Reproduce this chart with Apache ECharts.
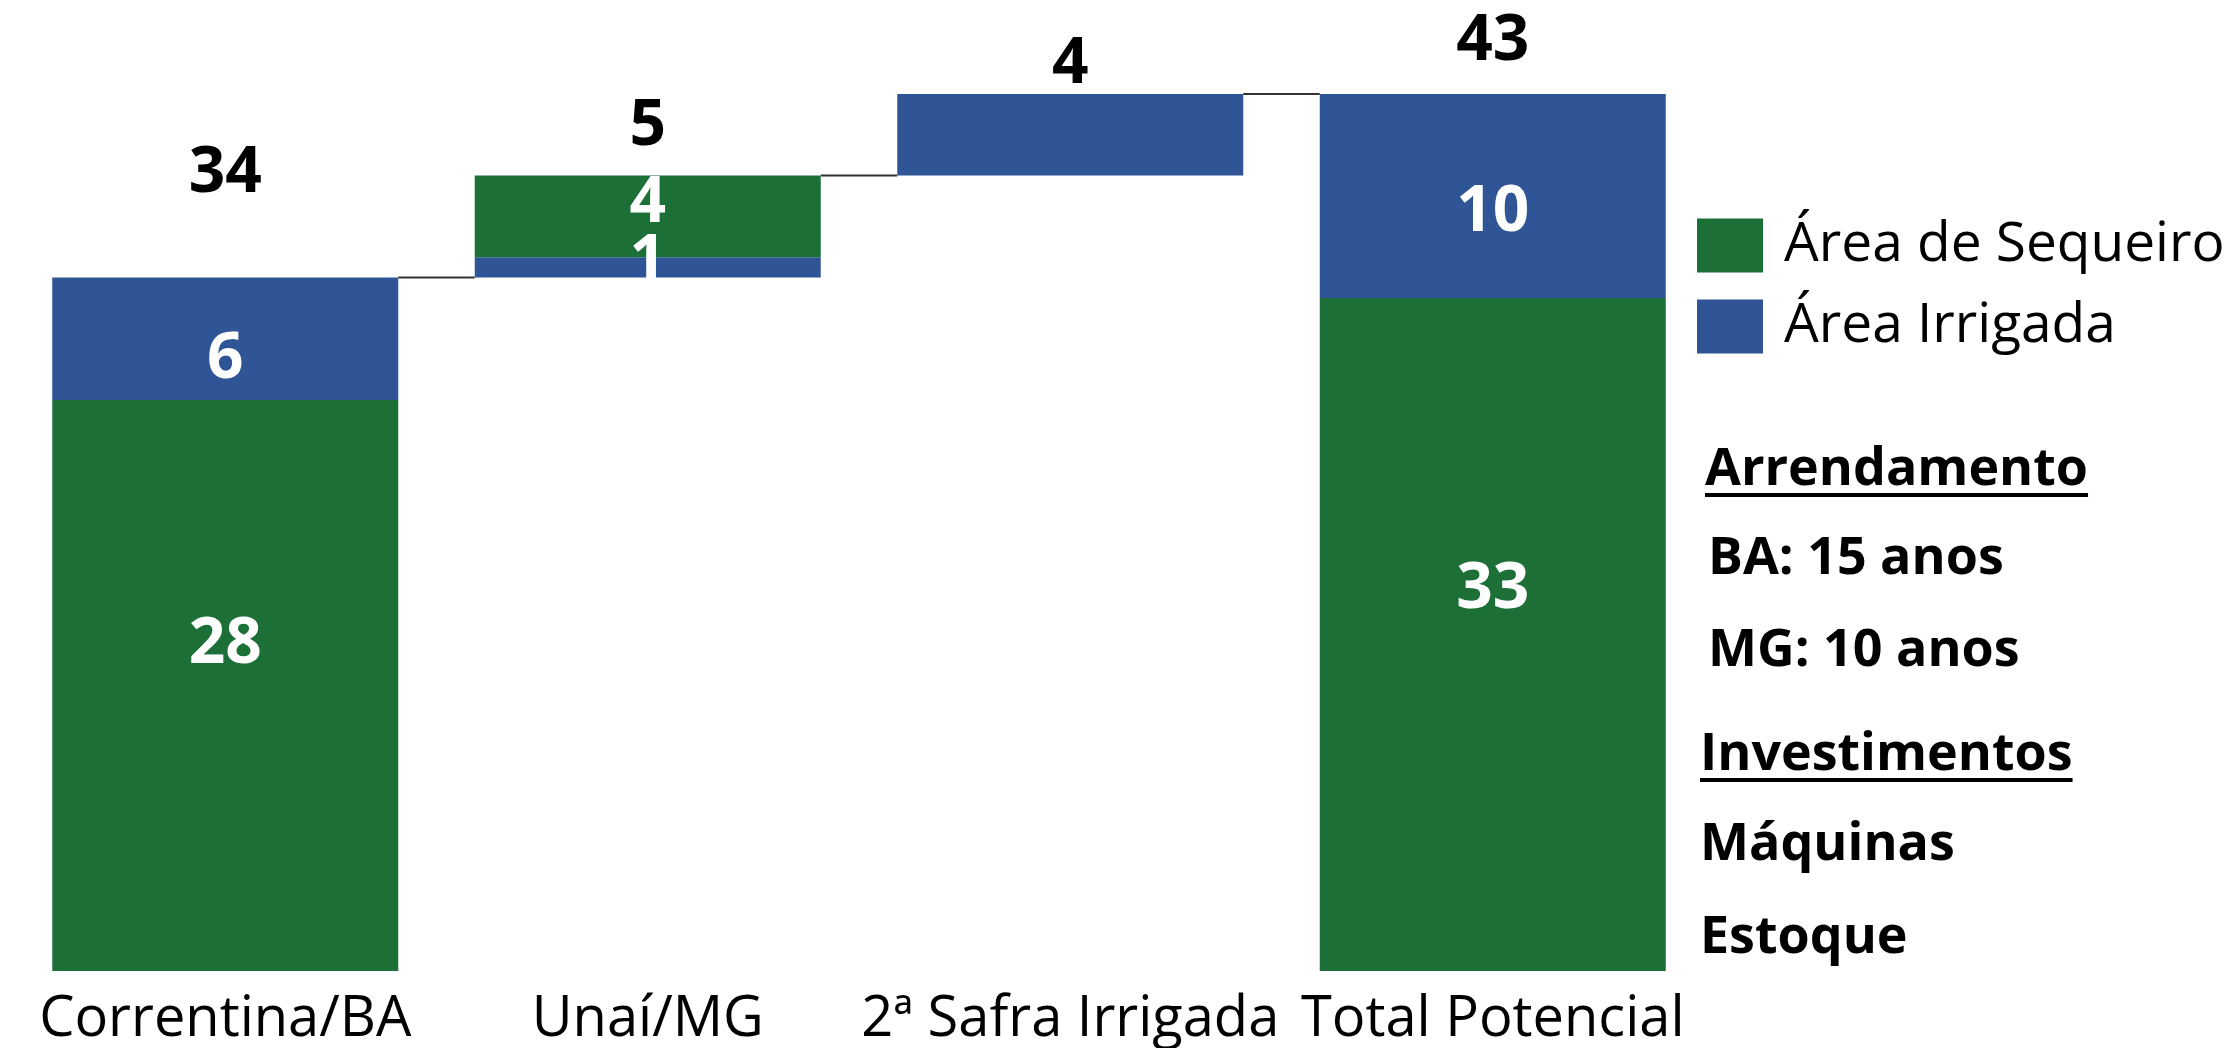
<!DOCTYPE html>
<html>
<head>
<meta charset="utf-8">
<title>Área potencial</title>
<script src="https://cdn.jsdelivr.net/npm/echarts@6/dist/echarts.min.js"></script>
<style>
  html, body { margin: 0; padding: 0; background: #fff; }
  #chart { width: 2235px; height: 1048px; }
</style>
</head>
<body>
<div id="chart"></div>
<script>
// dados
var categorias = ['Correntina/BA', 'Unaí/MG', '2ª Safra Irrigada', 'Total Potencial'];
var sequeiro = [28, 4, 0, 33];
var irrigada = [6, 1, 4, 10];
var inicio = [0, 34, 39, 0];            // cascata: onde cada barra começa
var irrigadaEmBaixo = [false, true, false, false];
var notas = ['Arrendamento', 'BA: 15 anos', 'MG: 10 anos', 'Investimentos', 'Máquinas', 'Estoque'];
var notasGrifadas = [true, false, false, true, false, false];

var totais = sequeiro.map(function (v, i) { return v + irrigada[i]; });
var fim = inicio.map(function (v, i) { return v + totais[i]; });

// layout
var VERDE = '#1B6F37', AZUL = '#2F5597';
var LARG_BARRA = 346;
var deslocSeq = [-41, -13, 0, -45];
var deslocIrr = [21, -6, 0, 17];
var deslocTot = [-104, -49, -29, -52];
var notaX = [1705, 1708, 1708, 1700, 1700, 1700];
var notaCentro = [470, 559, 651, 755, 845, 938];

var chart = echarts.init(document.getElementById('chart'));

function rotulo(v, i, dy) {
    return {
        value: v,
        label: {show: v > 0 && sequeiro[i] > 0 && irrigada[i] > 0, offset: [0, dy]}
    };
}

var rotuloInterno = {
    position: 'inside',
    color: '#fff',
    fontFamily: 'Open Sans',
    fontWeight: 'bold',
    fontSize: 64,
    formatter: function (p) { return p.value; }
};

// notas à direita
var ctx = document.createElement('canvas').getContext('2d');
ctx.font = 'bold 52px "Open Sans"';
var graficos = [];
notas.forEach(function (t, i) {
    graficos.push({
        type: 'text', left: notaX[i], top: notaCentro[i] - 26,
        style: {text: t, font: 'bold 52px "Open Sans"', fill: '#000'}
    });
    if (notasGrifadas[i]) {
        var w = ctx.measureText(t).width;
        graficos.push({
            type: 'line',
            shape: {x1: notaX[i], y1: notaCentro[i] + 25, x2: notaX[i] + w, y2: notaCentro[i] + 25},
            style: {stroke: '#000', lineWidth: 4}
        });
    }
});

var option = {
    animation: false,
    backgroundColor: '#fff',
    grid: {left: 14, width: 1690, top: 94, bottom: 73},
    legend: {
        data: ['Área de Sequeiro', 'Área Irrigada'],
        orient: 'vertical',
        left: 1692, top: 213,
        itemWidth: 66, itemHeight: 54, itemGap: 26,
        icon: 'rect',
        textStyle: {fontFamily: 'Open Sans', fontSize: 55, color: '#000', padding: [0, 0, 0, 16]}
    },
    xAxis: {
        type: 'category',
        data: categorias,
        axisLine: {show: false},
        axisTick: {show: false},
        axisLabel: {fontFamily: 'Open Sans', fontSize: 56, color: '#000', margin: 21, interval: 0}
    },
    yAxis: {type: 'value', min: 0, max: 43, show: false, splitLine: {show: false}},
    graphic: graficos,
    series: [
        {
            name: 'base', type: 'bar', stack: 'c', barWidth: LARG_BARRA, silent: true,
            itemStyle: {color: 'transparent'},
            data: inicio
        },
        {
            name: 'Área Irrigada', type: 'bar', stack: 'c', barWidth: LARG_BARRA,
            itemStyle: {color: AZUL},
            label: rotuloInterno,
            data: irrigada.map(function (v, i) { return rotulo(irrigadaEmBaixo[i] ? v : 0, i, deslocIrr[i]); })
        },
        {
            name: 'Área de Sequeiro', type: 'bar', stack: 'c', barWidth: LARG_BARRA,
            itemStyle: {color: VERDE},
            label: rotuloInterno,
            data: sequeiro.map(function (v, i) { return rotulo(v, i, deslocSeq[i]); })
        },
        {
            name: 'Área Irrigada', type: 'bar', stack: 'c', barWidth: LARG_BARRA,
            itemStyle: {color: AZUL},
            label: rotuloInterno,
            data: irrigada.map(function (v, i) { return rotulo(irrigadaEmBaixo[i] ? 0 : v, i, deslocIrr[i]); })
        },
        {
            // linhas de ligação entre as barras
            type: 'custom', silent: true,
            data: [0, 1, 2].map(function (i) { return [i, fim[i]]; }),
            encode: {x: 0, y: 1},
            renderItem: function (params, api) {
                var a = api.coord([api.value(0), api.value(1)]);
                var b = api.coord([api.value(0) + 1, api.value(1)]);
                return {
                    type: 'line',
                    shape: {x1: a[0] + LARG_BARRA / 2, y1: a[1], x2: b[0] - LARG_BARRA / 2, y2: b[1]},
                    style: {stroke: '#333', lineWidth: 2}
                };
            }
        },
        {
            // totais acima das barras
            type: 'scatter', silent: true, symbolSize: 1,
            itemStyle: {color: 'transparent', opacity: 1},
            label: {
                show: true, position: 'inside', color: '#000',
                fontFamily: 'Open Sans', fontWeight: 'bold', fontSize: 64,
                formatter: function (p) { return totais[p.dataIndex]; }
            },
            data: fim.map(function (v, i) { return {value: [i, v], label: {offset: [0, deslocTot[i]]}}; })
        }
    ]
};

chart.setOption(option);
window.onresize = chart.resize;
</script>
</body>
</html>
